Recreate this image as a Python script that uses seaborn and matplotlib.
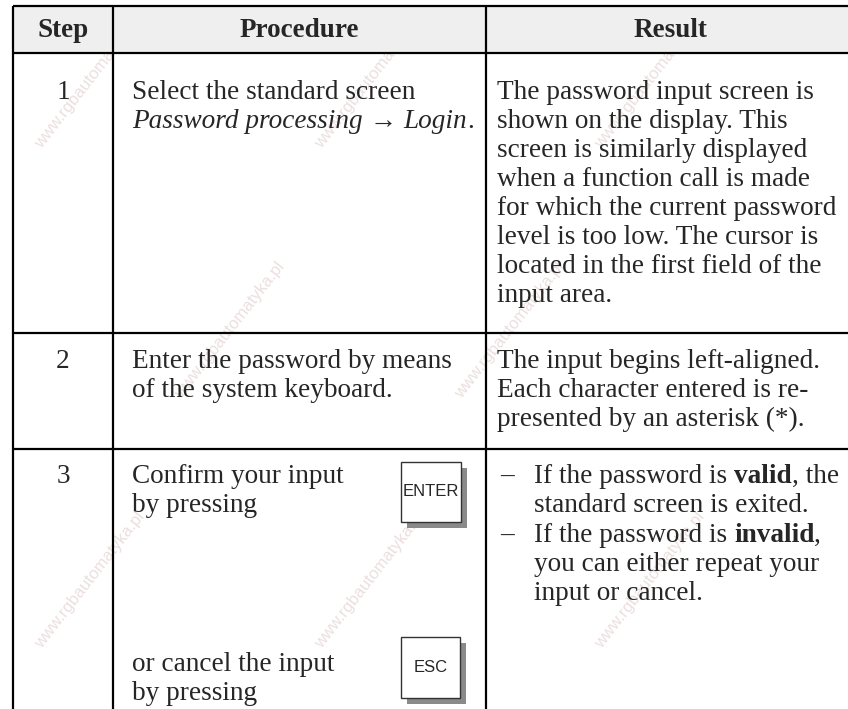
import matplotlib
matplotlib.use("Agg")
import matplotlib.pyplot as plt
from matplotlib.patches import Rectangle
import seaborn as sns

sns.set_theme(style="white")
plt.rcParams["font.family"] = ["Liberation Serif", "DejaVu Serif"]

# table content
headers = ["Step", "Procedure", "Result"]
steps = ["1", "2", "3"]

# each line is a list of (text, weight, style) pieces
proc_1 = [
    [("Select the standard screen", "normal", "normal")],
    [("Password processing", "normal", "italic"), (" \u2192 ", "normal", "normal"),
     ("Login", "normal", "italic"), (".", "normal", "normal")],
]
proc_2 = ["Enter the password by means", "of the system keyboard."]
proc_3a = ["Confirm your input", "by pressing"]
proc_3b = ["or cancel the input", "by pressing"]

result_1 = [
    "The password input screen is",
    "shown on the display. This",
    "screen is similarly displayed",
    "when a function call is made",
    "for which the current password",
    "level is too low. The cursor is",
    "located in the first field of the",
    "input area.",
]
result_2 = [
    "The input begins left-aligned.",
    "Each character entered is re-",
    "presented by an asterisk (*).",
]
result_3 = [
    [[("If the password is ", "normal", "normal"), ("valid", "bold", "normal"),
      (", the", "normal", "normal")],
     [("standard screen is exited.", "normal", "normal")]],
    [[("If the password is ", "normal", "normal"), ("invalid", "bold", "normal"),
      (",", "normal", "normal")],
     [("you can either repeat your", "normal", "normal")],
     [("input or cancel.", "normal", "normal")]],
]
keys = ["ENTER", "ESC"]

W, H = 848, 709
fig = plt.figure(figsize=(W / 100, H / 100), dpi=100)
ax = fig.add_axes([0, 0, 1, 1])
ax.set_xlim(0, W)
ax.set_ylim(H, 0)
ax.axis("off")
fig.patch.set_facecolor("white")
renderer = fig.canvas.get_renderer()

FS = 19.6
HFS = 19.5
PITCH = 29
col_x = [13, 113, 486]
head_top, head_bot = 6, 53
row_lines = [333, 449]
lw = 1.6

# faint watermark, kept inside the canvas
for j, wy in enumerate(range(80, H - 60, 250)):
    for wx in range(90 + (j % 2) * 140, W - 60, 280):
        ax.text(wx, wy, "www.rgbautomatyka.pl", fontsize=12, rotation=52,
                color="#ecdfdf", ha="center", va="center",
                family=["Liberation Sans", "DejaVu Sans"], zorder=0)

# header
ax.add_patch(Rectangle((col_x[0], head_top), W - col_x[0], head_bot - head_top,
                       facecolor="#efefef", edgecolor="none", zorder=1))
head_cx = [63, 299, 671]
for cx, h in zip(head_cx, headers):
    ax.text(cx, 37, h, fontsize=HFS, fontweight="bold", ha="center",
            va="baseline", zorder=3)

# grid lines
for y in [head_top, head_bot] + row_lines:
    ax.plot([col_x[0], W], [y, y], color="black", lw=lw, zorder=2,
            solid_capstyle="butt")
for x in col_x:
    ax.plot([x, x], [head_top, H], color="black", lw=lw, zorder=2,
            solid_capstyle="butt")


def text_w(s, weight="normal", style="normal"):
    t = ax.text(0, 0, s, fontsize=FS, fontweight=weight, fontstyle=style)
    w = t.get_window_extent(renderer=renderer).width
    t.remove()
    return w


def rich(x, y, pieces):
    for s, weight, style in pieces:
        sp = text_w("x x", weight, style) - text_w("xx", weight, style)
        lead = len(s) - len(s.lstrip(" "))
        trail = len(s) - len(s.rstrip(" "))
        core = s.strip(" ")
        x += lead * sp
        t = ax.text(x, y, core, fontsize=FS, fontweight=weight, fontstyle=style,
                    va="baseline", ha="left", zorder=3)
        x += t.get_window_extent(renderer=renderer).width + trail * sp
    return x


def plain(x, y0, lines):
    for i, s in enumerate(lines):
        ax.text(x, y0 + i * PITCH, s, fontsize=FS, va="baseline", ha="left",
                zorder=3)


def key(x, y, w, h, label):
    ax.add_patch(Rectangle((x + 6, y + 6), w, h, facecolor="#8a8a8a",
                           edgecolor="none", zorder=3))
    ax.add_patch(Rectangle((x, y), w, h, facecolor="white", edgecolor="#333333",
                           lw=1.0, zorder=4))
    ax.text(x + w / 2, y + h / 2, label, fontsize=12, ha="center",
            va="center", family=["Liberation Sans", "DejaVu Sans"], zorder=5)


row_base = [99, 368, 483]
px, rx = 132, 497

# step numbers
for b, s in zip(row_base, steps):
    ax.text(63, b, s, fontsize=FS, ha="center", va="baseline", zorder=3)

# row 1
for i, line in enumerate(proc_1):
    rich(px, row_base[0] + i * PITCH, line)
plain(rx, row_base[0], result_1)

# row 2
plain(px, row_base[1], proc_2)
plain(rx, row_base[1], result_2)

# row 3
plain(px, row_base[2], proc_3a)
plain(px, 671, proc_3b)
key(401, 462, 60, 60, keys[0])
key(401, 637, 59, 61, keys[1])

y = row_base[2]
for item in result_3:
    ax.text(500, y, "\u2013", fontsize=FS, va="baseline", ha="left", zorder=3)
    for line in item:
        rich(534, y, line)
        y += PITCH
    y += 1

fig.savefig("out.png", dpi=100, facecolor="white")
